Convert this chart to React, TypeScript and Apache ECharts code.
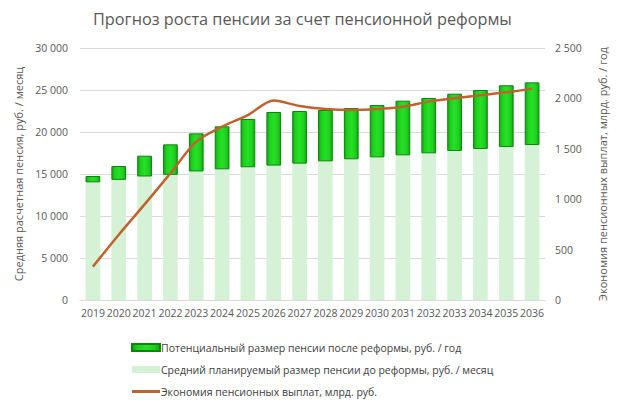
import React, { useEffect, useRef } from "react";
import * as echarts from "echarts";

const years = ["2019","2020","2021","2022","2023","2024","2025","2026","2027","2028","2029","2030","2031","2032","2033","2034","2035","2036"];
const pensionBefore = [14000,14300,14700,14900,15300,15550,15800,16000,16230,16500,16750,16980,17220,17460,17740,17980,18210,18450];
const pensionAfter = [14760,15950,17180,18530,19840,20680,21550,22380,22500,22620,22860,23210,23730,24050,24560,25000,25560,25910];
const savings = [331,648,949,1257,1571,1720,1835,1978,1925,1895,1885,1895,1918,1968,2001,2031,2060,2097];

const nameAfter = "Потенциальный размер пенсии после реформы, руб. / год";
const nameBefore = "Средний планируемый размер пенсии до реформы, руб. / месяц";
const nameSavings = "Экономия пенсионных выплат, млрд. руб.";

const FONT = "'Open Sans', 'Noto Sans', sans-serif";

const fmt = (v: number) => String(v).replace(/\B(?=(\d{3})+(?!\d))/g, " ");

export default function App() {
  const ref = useRef<HTMLDivElement>(null);
  useEffect(() => {
    if (!ref.current) return;
    const chart = echarts.init(ref.current, undefined, { renderer: "svg" });
    const increase = pensionAfter.map((v, i) => v - pensionBefore[i]);
    chart.setOption({
      animation: false,
      backgroundColor: "#ffffff",
      textStyle: { fontFamily: FONT },
      title: {
        text: "Прогноз роста пенсии за счет пенсионной реформы",
        left: 88,
        top: 6,
        textStyle: { fontFamily: FONT, fontSize: 16.3, fontWeight: "normal", color: "#595959" },
      },
      legend: {
        orient: "vertical",
        left: 126,
        top: 337,
        itemGap: 11,
        itemWidth: 28,
        itemHeight: 7,
        data: [
          { name: nameAfter, icon: "rect" },
          { name: nameBefore, icon: "rect" },
          { name: nameSavings, icon: "path://M0 0H28V3H0Z" },
        ],
        textStyle: { fontFamily: FONT, fontSize: 10.5, color: "#404040", padding: [0, 0, 0, -4] },
      },
      grid: { left: 80, right: 75, top: 48, bottom: 104 },
      xAxis: {
        type: "category",
        data: years,
        axisLine: { lineStyle: { color: "#d9d9d9" } },
        axisTick: { show: false },
        axisLabel: { interval: 0, fontSize: 10.5, color: "#595959", margin: 7, fontFamily: FONT },
      },
      yAxis: [
        {
          type: "value",
          min: 0,
          max: 30000,
          interval: 5000,
          name: "Средняя расчетная пенсия, руб. / месяц",
          nameLocation: "middle",
          nameGap: 53,
          nameTextStyle: { fontSize: 11, color: "#595959", fontFamily: FONT },
          axisLabel: { formatter: (v: number) => fmt(v), fontSize: 10.5, color: "#595959", margin: 12, fontFamily: FONT },
          splitLine: { lineStyle: { color: "#d9d9d9" } },
          axisLine: { show: false },
          axisTick: { show: false },
        },
        {
          type: "value",
          min: 0,
          max: 2500,
          interval: 500,
          position: "right",
          name: "Экономия пенсионных выплат, млрд. руб. / год",
          nameLocation: "middle",
          nameGap: 52,
          nameRotate: 90,
          nameTextStyle: { fontSize: 11, color: "#595959", fontFamily: FONT },
          axisLabel: { formatter: (v: number) => fmt(v), fontSize: 10.5, color: "#595959", margin: 10, fontFamily: FONT },
          splitLine: { show: false },
          axisLine: { show: false },
          axisTick: { show: false },
        },
      ],
      series: [
        {
          name: nameBefore,
          type: "bar",
          stack: "p",
          barWidth: "57%",
          data: pensionBefore,
          itemStyle: { color: "#d6f2d6" },
        },
        {
          name: nameAfter,
          type: "bar",
          stack: "p",
          data: increase,
          itemStyle: {
            color: new echarts.graphic.LinearGradient(0, 0, 1, 0, [
              { offset: 0, color: "#12a812" },
              { offset: 0.2, color: "#1fcf1f" },
              { offset: 0.5, color: "#26e026" },
              { offset: 0.8, color: "#1fcf1f" },
              { offset: 1, color: "#12a812" },
            ]),
            borderColor: "#0d840d",
            borderWidth: 1,
          },
        },
        {
          name: nameSavings,
          type: "line",
          yAxisIndex: 1,
          data: savings,
          smooth: 0.3,
          showSymbol: false,
          symbol: "none",
          lineStyle: { color: "#c0622d", width: 2.5 },
          itemStyle: { color: "#c0622d" },
        },
      ],
    });
    return () => chart.dispose();
  }, []);
  return <div ref={ref} style={{ position: "fixed", left: 0, top: 0, width: 620, height: 404 }} />;
}
